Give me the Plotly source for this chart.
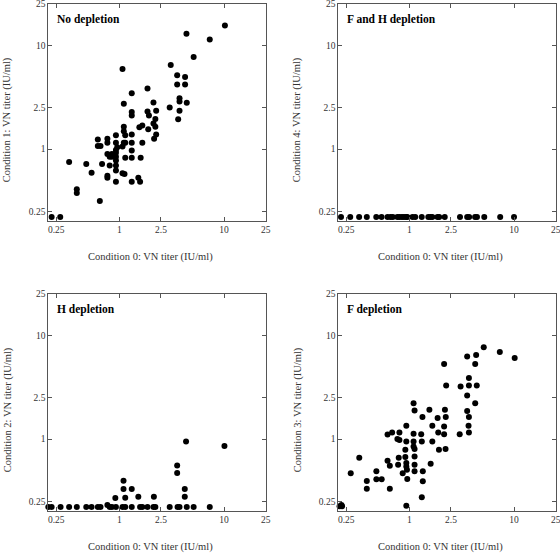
import math
import plotly.graph_objects as go

# ---------------- data ----------------
tick_vals = [0.25, 1, 2.5, 10, 25]
tick_text = ["0.25", "1", "2.5", "10", "25"]

panel_titles = ["No depletion", "F and H depletion", "H depletion", "F depletion"]
y_titles = ["Condition 1: VN titer (IU/ml)", "Condition 4: VN titer (IU/ml)",
            "Condition 2: VN titer (IU/ml)", "Condition 3: VN titer (IU/ml)"]
x_title = "Condition 0: VN titer (IU/ml)"

# Panel 1: No depletion
p1_x = [0.207, 0.226, 0.273, 0.332, 0.393, 0.393, 0.484, 0.544, 0.652, 0.624, 0.624, 0.662,
        0.685, 0.77, 0.77, 0.77, 0.77, 0.77, 0.81, 0.81, 0.851, 0.851,
        0.929, 0.929, 0.929, 0.929, 0.929, 0.929, 0.929, 0.929, 0.929, 0.957,
        1.074, 1.105, 1.105, 1.105, 1.105, 1.074, 1.074, 1.122, 1.14, 1.14, 1.14,
        1.315, 1.315, 1.315, 1.315, 1.315, 1.315, 1.315, 1.315,
        1.52, 1.58, 1.6, 1.555, 1.66, 1.66, 1.86, 1.86, 1.92, 1.89,
        2.12, 2.12, 2.15, 2.21, 2.21, 2.25, 2.25, 3.03, 3.1,
        3.57, 3.57, 3.65, 3.76, 3.76, 3.76, 4.25, 4.25, 4.41,
        4.38, 5.13, 7.31, 10.2]
p1_y = [0.246, 0.222, 0.222, 0.75, 0.41, 0.378, 0.718, 0.592, 0.316, 1.24, 1.07, 1.07,
        0.718, 1.26, 1.15, 0.895, 0.553, 0.53, 0.697, 0.843, 0.843, 0.895,
        1.36, 1.15, 0.978, 0.921, 0.843, 0.778, 0.697, 0.624, 0.485, 1.045,
        5.92, 2.73, 1.64, 1.49, 1.15, 1.06, 0.584, 0.575, 1.36, 1.15, 0.825,
        3.45, 2.28, 2.11, 1.38, 1.15, 0.972, 0.825, 0.485,
        0.53, 0.485, 0.825, 1.62, 1.69, 1.15, 3.83, 2.30, 2.11, 1.55,
        2.81, 1.77, 1.26, 1.95, 1.64, 1.38, 2.34, 2.52, 6.46,
        5.15, 4.19, 1.94, 3.09, 2.87, 2.34, 4.96, 4.19, 2.79,
        12.96, 7.72, 11.4, 15.5]

# Panel 2: F and H depletion (all at the detection floor)
p2_x = [0.207, 0.223, 0.273, 0.332, 0.393, 0.484, 0.544, 0.62, 0.662, 0.696, 0.77, 0.805,
        0.851, 0.89, 0.937, 0.957, 1.074, 1.14, 1.315, 1.52, 1.59, 1.66, 1.86, 1.93,
        2.18, 3.05, 3.57, 3.73, 4.25, 4.43, 5.2, 7.38, 10.0]
p2_y = [0.222] * len(p2_x)

# Panel 3: H depletion
p3_x = [0.21, 0.226, 0.275, 0.332, 0.393, 0.484, 0.544, 0.624, 0.662, 0.81, 0.851, 0.929,
        1.074, 1.14, 1.315, 1.58, 1.66, 1.86, 2.12, 2.21, 3.03, 3.6, 3.76, 4.41, 5.13, 7.31,
        0.77, 0.917, 1.098, 1.098, 1.14, 1.315, 1.52, 2.14, 3.57, 3.57, 4.34, 4.22, 4.22, 10.1]
p3_y = [0.222] * 26 + [0.232, 0.271, 0.397, 0.331, 0.273, 0.331, 0.279, 0.279,
                       0.557, 0.471, 0.948, 0.331, 0.279, 0.857]

# Panel 4: F depletion
p4_x = [0.208, 0.216, 0.225, 0.228, 0.276, 0.333, 0.393, 0.393, 0.485, 0.485, 0.545,
        0.62, 0.686, 0.62, 0.652, 0.652, 0.77, 0.805, 0.805, 0.793, 0.782, 0.865,
        0.937, 0.937, 0.917, 0.917, 0.937, 0.937, 0.95, 0.957, 0.937,
        1.099, 1.123, 1.099, 1.099, 1.099, 1.123, 1.123, 1.123, 1.123, 1.346, 1.317,
        2.15, 2.25, 3.09, 3.57, 4.35, 4.26, 5.14, 7.32, 10.15, 3.71, 3.71, 4.41, 3.57,
        4.26, 1.556, 2.19, 3.57, 1.336, 1.864, 2.23, 3.71, 1.66, 2.15, 3.68, 1.30, 1.89,
        2.15, 3.03, 3.71, 1.317, 1.66, 1.92, 2.22, 1.60, 1.346]
p4_y = [0.225, 0.225, 0.232, 0.225, 0.468, 0.661, 0.395, 0.333, 0.489, 0.41, 0.41,
        1.109, 1.16, 0.619, 0.554, 0.333, 1.0, 0.978, 1.16, 0.661, 0.567, 0.468,
        1.343, 0.95, 0.79, 0.672, 0.588, 0.546, 0.507, 0.412, 0.2285,
        2.22, 1.89, 1.125, 0.95, 0.85, 0.801, 0.681, 0.567, 0.489, 0.392, 0.275,
        5.3, 3.28, 3.21, 6.24, 6.47, 5.3, 7.67, 6.92, 6.05, 3.89, 3.28, 3.28, 2.63,
        2.22, 1.915, 1.915, 1.87, 1.63, 1.60, 1.63, 1.63, 1.343, 1.32, 1.343, 1.117, 1.16,
        1.117, 1.117, 1.16, 0.95, 0.95, 0.79, 0.801, 0.58, 0.489]

panels = [(p1_x, p1_y), (p2_x, p2_y), (p3_x, p3_y), (p4_x, p4_y)]

# ---------------- layout ----------------
W, H = 560, 553
FONT = "Liberation Serif, Times New Roman, serif"
# plot boxes in pixels: (left, right, top, bottom)
boxes = [(48.3, 265.7, 4, 221), (338.3, 555.7, 4, 221),
         (48.3, 265.7, 294, 511), (338.3, 555.7, 294, 511)]

fig = go.Figure()
annotations = []
xr = [math.log10(0.21), math.log10(25.01)]
yr = [math.log10(0.203), math.log10(25.01)]

for i, ((xs, ys), (l, r, t, b)) in enumerate(zip(panels, boxes)):
    n = "" if i == 0 else str(i + 1)
    fig.add_trace(go.Scatter(
        x=xs, y=ys, mode="markers", xaxis="x" + n, yaxis="y" + n,
        marker=dict(color="black", size=6, line=dict(width=0)),
        cliponaxis=False, showlegend=False, hoverinfo="x+y"))
    axcommon = dict(type="log", tickvals=tick_vals, ticktext=tick_text,
                    ticks="inside", ticklen=4, tickcolor="#555", tickwidth=1,
                    showline=True, linecolor="#555", linewidth=1, mirror="allticks",
                    showgrid=False, zeroline=False, automargin=False,
                    ticklabeloverflow="allow",
                    tickfont=dict(family=FONT, size=9.5, color="#333"))
    fig.update_layout(**{
        "xaxis" + n: dict(domain=[l / W, r / W], range=xr, anchor="y" + n, **axcommon),
        "yaxis" + n: dict(domain=[1 - b / H, 1 - t / H], range=yr, anchor="x" + n, **axcommon),
    })
    # panel title
    annotations.append(dict(text="<b>" + panel_titles[i] + "</b>", xref="paper", yref="paper",
                            x=(l + 6.7) / W, y=1 - (t + 15) / H, xanchor="left", yanchor="middle",
                            showarrow=False, font=dict(family=FONT, size=11.5, color="black")))
    # x title
    annotations.append(dict(text=x_title, xref="paper", yref="paper",
                            x=(l + r - 14) / 2 / W, y=1 - (b + 36) / H, xanchor="center",
                            yanchor="middle", showarrow=False,
                            font=dict(family=FONT, size=10.5, color="#333")))
    # y title
    annotations.append(dict(text=y_titles[i], xref="paper", yref="paper", textangle=-90,
                            x=(l - 40.5) / W, y=1 - ((t + b) / 2 + 7) / H, xanchor="center",
                            yanchor="middle", showarrow=False,
                            font=dict(family=FONT, size=10.5, color="#333")))

fig.update_layout(width=W, height=H, margin=dict(l=0, r=0, t=0, b=0),
                  paper_bgcolor="white", plot_bgcolor="white",
                  annotations=annotations, showlegend=False)

fig.write_html("out.html", config={"displayModeBar": False},
               post_script="document.body.style.margin='0';document.body.style.padding='0';")
